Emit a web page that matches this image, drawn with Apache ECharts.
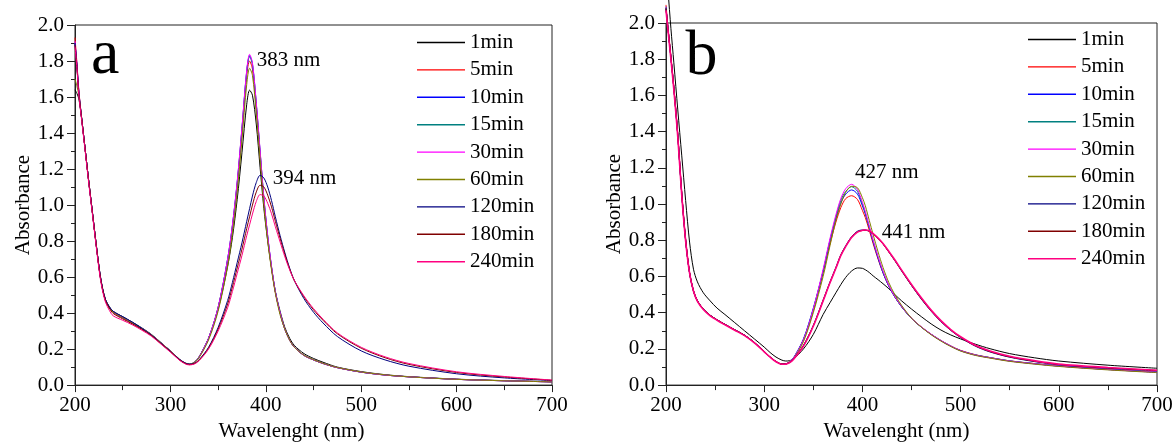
<!DOCTYPE html>
<html>
<head>
<meta charset="utf-8">
<script src="https://cdn.jsdelivr.net/npm/echarts@6/dist/echarts.min.js"></script>
<style>
html,body{margin:0;padding:0;background:#fff;}
#c{width:1176px;height:447px;}
</style>
</head>
<body>
<div id="c"></div>
<script>
// ---------- DATA ----------
const SERIES_NAMES = ['1min','5min','10min','15min','30min','60min','120min','180min','240min'];
const SERIES_COLORS = ['#000000','#ff0000','#0000ff','#008080','#ff00ff','#808000','#000080','#800000','#ff0080'];
const X_TICKS = [200,300,400,500,600,700];
const Y_TICKS = [0.0,0.2,0.4,0.6,0.8,1.0,1.2,1.4,1.6,1.8,2.0];
const X_NAME = 'Wavelenght (nm)';
const Y_NAME = 'Absorbance';
const PANEL_A_PEAKS = ['383 nm','394 nm'];
const PANEL_B_PEAKS = ['427 nm','441 nm'];

// Panel a wavelengths (nm)
const WL_A = [200,202,204,207,210,214,218,222,226,229,232,236,240,250,260,270,280,290,300,310,316,320,325,
  330,340,350,360,365,370,375,380,383,386,390,394,398,402,406,410,415,420,425,430,
  440,450,460,475,500,525,550,600,650,700];

const A_1min = [1.64,1.62,1.59,1.48,1.34,1.15,0.97,0.79,0.625,0.535,0.475,0.435,0.41,0.38,0.35,0.318,0.282,0.237,0.19,0.142,0.122,0.117,0.127,
  0.157,0.26,0.42,0.66,0.82,1.03,1.29,1.56,1.638,1.61,1.45,1.21,0.98,0.80,0.65,0.52,0.41,0.32,0.26,0.22,
  0.175,0.148,0.127,0.10,0.075,0.058,0.047,0.033,0.025,0.019];
const A_5min = [1.93,1.79,1.64,1.48,1.34,1.15,0.97,0.79,0.62,0.53,0.468,0.428,0.403,0.373,0.343,0.313,0.279,0.234,0.189,0.139,0.119,0.114,0.124,
  0.154,0.26,0.43,0.69,0.87,1.11,1.40,1.72,1.80,1.755,1.54,1.28,1.02,0.815,0.65,0.515,0.40,0.31,0.25,0.21,
  0.165,0.14,0.12,0.097,0.072,0.056,0.046,0.032,0.024,0.018];
const A_10min = [1.90,1.78,1.63,1.48,1.34,1.15,0.97,0.79,0.62,0.53,0.47,0.43,0.406,0.376,0.346,0.316,0.28,0.235,0.19,0.14,0.12,0.115,0.125,
  0.155,0.26,0.43,0.70,0.885,1.125,1.425,1.745,1.83,1.785,1.565,1.30,1.037,0.827,0.657,0.52,0.40,0.31,0.25,0.21,
  0.165,0.14,0.12,0.097,0.072,0.056,0.046,0.032,0.024,0.018];
const A_15min = [1.90,1.77,1.63,1.48,1.34,1.15,0.97,0.79,0.62,0.53,0.47,0.43,0.406,0.376,0.346,0.316,0.28,0.235,0.19,0.14,0.12,0.115,0.125,
  0.155,0.26,0.43,0.70,0.885,1.12,1.42,1.74,1.825,1.78,1.56,1.295,1.035,0.825,0.655,0.52,0.40,0.31,0.25,0.21,
  0.165,0.14,0.12,0.097,0.072,0.056,0.046,0.032,0.024,0.018];
const A_30min = [1.91,1.78,1.63,1.48,1.34,1.15,0.97,0.79,0.62,0.53,0.47,0.43,0.405,0.375,0.345,0.315,0.28,0.235,0.19,0.14,0.12,0.115,0.125,
  0.155,0.26,0.43,0.70,0.89,1.13,1.43,1.75,1.837,1.79,1.57,1.305,1.04,0.83,0.66,0.52,0.40,0.31,0.25,0.21,
  0.165,0.14,0.12,0.097,0.072,0.056,0.046,0.032,0.024,0.018];
const A_60min = [1.70,1.66,1.61,1.48,1.34,1.15,0.97,0.79,0.62,0.53,0.47,0.43,0.405,0.375,0.345,0.315,0.28,0.235,0.19,0.14,0.12,0.116,0.125,
  0.152,0.25,0.41,0.66,0.84,1.07,1.36,1.67,1.76,1.72,1.51,1.255,1.00,0.80,0.64,0.51,0.39,0.31,0.25,0.21,
  0.166,0.141,0.121,0.098,0.073,0.057,0.046,0.032,0.024,0.018];
const A_120min = [1.90,1.77,1.62,1.48,1.34,1.15,0.97,0.79,0.625,0.535,0.475,0.435,0.41,0.38,0.35,0.315,0.278,0.232,0.187,0.14,0.121,0.116,0.12,
  0.14,0.21,0.32,0.47,0.57,0.68,0.79,0.91,0.98,1.05,1.125,1.165,1.15,1.10,1.025,0.935,0.83,0.735,0.65,0.58,
  0.48,0.405,0.345,0.27,0.19,0.14,0.105,0.063,0.04,0.025];
const A_180min = [1.89,1.77,1.62,1.48,1.34,1.15,0.97,0.79,0.62,0.53,0.468,0.428,0.398,0.368,0.34,0.31,0.275,0.23,0.185,0.138,0.119,0.114,0.119,
  0.138,0.205,0.31,0.45,0.545,0.65,0.755,0.87,0.935,1.00,1.072,1.11,1.10,1.055,0.99,0.91,0.815,0.725,0.645,0.58,
  0.49,0.418,0.36,0.285,0.205,0.152,0.115,0.07,0.045,0.027];
const A_240min = [1.88,1.76,1.61,1.47,1.33,1.14,0.96,0.78,0.61,0.52,0.46,0.415,0.385,0.36,0.335,0.305,0.272,0.228,0.183,0.136,0.117,0.112,0.117,
  0.135,0.20,0.30,0.43,0.52,0.62,0.72,0.83,0.89,0.95,1.02,1.058,1.05,1.01,0.952,0.88,0.795,0.712,0.64,0.58,
  0.495,0.425,0.366,0.29,0.21,0.157,0.12,0.074,0.048,0.028];

// Panel b wavelengths (nm)
const WL_B = [200,202,205,208,212,216,220,224,228,232,238,245,252,260,270,280,290,300,306,312,318,322,326,330,
  340,350,360,367,373,378,383,389,395,400,403,407,411,416,421,427,433,440,450,460,470,480,490,500,515,530,550,575,600,650,700];

const B_1min = [2.30,2.18,1.97,1.78,1.52,1.27,1.02,0.79,0.64,0.57,0.51,0.465,0.425,0.39,0.345,0.30,0.255,0.21,0.18,0.155,0.138,0.133,0.135,0.145,
  0.20,0.28,0.39,0.455,0.51,0.555,0.595,0.63,0.647,0.645,0.637,0.622,0.603,0.582,0.56,0.532,0.50,0.465,0.42,0.378,0.338,0.304,0.277,0.255,0.226,0.201,0.174,0.151,0.133,0.11,0.093];
const B_5min = [2.10,1.98,1.82,1.65,1.39,1.07,0.81,0.625,0.522,0.467,0.421,0.386,0.361,0.336,0.306,0.276,0.236,0.186,0.156,0.131,0.117,0.118,0.13,0.15,
  0.25,0.41,0.62,0.78,0.90,0.98,1.03,1.046,1.025,0.965,0.925,0.855,0.78,0.695,0.62,0.545,0.487,0.432,0.368,0.321,0.281,0.246,0.216,0.192,0.168,0.152,0.134,0.119,0.106,0.087,0.072];
const B_10min = [2.09,1.97,1.81,1.64,1.38,1.06,0.80,0.62,0.52,0.465,0.42,0.385,0.36,0.335,0.305,0.275,0.235,0.185,0.155,0.13,0.116,0.117,0.13,0.152,
  0.255,0.425,0.63,0.80,0.92,1.005,1.055,1.078,1.055,0.99,0.945,0.87,0.79,0.70,0.62,0.545,0.487,0.432,0.368,0.32,0.28,0.245,0.215,0.19,0.166,0.151,0.133,0.118,0.105,0.086,0.071];
const B_15min = [2.08,1.97,1.81,1.64,1.38,1.06,0.80,0.62,0.52,0.466,0.421,0.386,0.361,0.336,0.306,0.276,0.236,0.186,0.155,0.13,0.116,0.117,0.13,0.151,
  0.252,0.42,0.63,0.80,0.93,1.02,1.07,1.096,1.07,1.00,0.95,0.87,0.795,0.705,0.625,0.548,0.488,0.433,0.369,0.321,0.281,0.246,0.216,0.19,0.167,0.152,0.134,0.119,0.106,0.087,0.072];
const B_30min = [2.08,1.97,1.81,1.64,1.38,1.06,0.80,0.62,0.52,0.465,0.42,0.385,0.36,0.335,0.305,0.275,0.235,0.185,0.155,0.13,0.116,0.117,0.13,0.15,
  0.25,0.42,0.64,0.81,0.94,1.03,1.085,1.109,1.08,1.01,0.96,0.88,0.80,0.71,0.63,0.55,0.49,0.435,0.37,0.322,0.281,0.246,0.216,0.19,0.166,0.151,0.133,0.118,0.105,0.086,0.071];
const B_60min = [2.08,1.97,1.81,1.64,1.38,1.06,0.80,0.62,0.52,0.465,0.42,0.385,0.36,0.335,0.305,0.275,0.235,0.185,0.155,0.13,0.116,0.117,0.128,0.146,
  0.24,0.40,0.60,0.77,0.91,1.00,1.065,1.098,1.09,1.035,0.99,0.91,0.83,0.735,0.65,0.565,0.50,0.44,0.37,0.32,0.278,0.243,0.213,0.188,0.164,0.149,0.131,0.116,0.103,0.084,0.069];
const B_120min = [2.08,1.97,1.81,1.64,1.38,1.06,0.80,0.62,0.52,0.465,0.42,0.385,0.36,0.335,0.305,0.275,0.235,0.185,0.155,0.13,0.116,0.117,0.125,0.145,
  0.22,0.33,0.47,0.57,0.65,0.72,0.77,0.82,0.85,0.857,0.857,0.85,0.835,0.81,0.78,0.735,0.688,0.63,0.55,0.475,0.408,0.35,0.302,0.262,0.215,0.183,0.154,0.13,0.112,0.093,0.079];
const B_180min = [2.08,1.97,1.81,1.64,1.38,1.06,0.80,0.62,0.52,0.465,0.42,0.385,0.36,0.335,0.305,0.275,0.235,0.185,0.155,0.13,0.116,0.117,0.125,0.144,
  0.218,0.328,0.467,0.567,0.647,0.717,0.767,0.817,0.847,0.854,0.855,0.849,0.834,0.809,0.779,0.734,0.688,0.631,0.551,0.477,0.41,0.352,0.304,0.264,0.217,0.185,0.156,0.132,0.114,0.095,0.081];
const B_240min = [2.07,1.96,1.80,1.63,1.37,1.05,0.795,0.618,0.518,0.463,0.418,0.383,0.358,0.333,0.303,0.273,0.233,0.184,0.154,0.129,0.115,0.116,0.124,0.143,
  0.215,0.325,0.465,0.565,0.645,0.715,0.765,0.815,0.845,0.855,0.857,0.852,0.837,0.812,0.782,0.738,0.692,0.635,0.556,0.482,0.414,0.356,0.307,0.267,0.22,0.188,0.159,0.135,0.116,0.097,0.082];

const A_VALUES = [A_1min,A_5min,A_10min,A_15min,A_30min,A_60min,A_120min,A_180min,A_240min];
const B_VALUES = [B_1min,B_5min,B_10min,B_15min,B_30min,B_60min,B_120min,B_180min,B_240min];

// ---------- CHART ----------
const FONT = 'Liberation Serif';
const AX = '#222';
const chart = echarts.init(document.getElementById('c'), null, {renderer: 'canvas'});

function pairs(wl, vals){ return wl.map((w,i)=>[w, vals[i]]); }

function xAxis(gi, padRight){
  return {
    type:'value', gridIndex:gi, min:X_TICKS[0], max:X_TICKS[X_TICKS.length-1], interval:X_TICKS[1]-X_TICKS[0],
    name:X_NAME, nameLocation:'middle', nameGap:31,
    nameTextStyle:{fontFamily:FONT, fontSize:21, color:'#000', padding:[0,padRight,0,0]},
    axisLine:{show:true, onZero:false, lineStyle:{color:AX, width:1}},
    axisTick:{show:true, inside:false, length:7, lineStyle:{color:AX, width:1}},
    minorTick:{show:true, splitNumber:2, length:5, lineStyle:{color:AX, width:1}},
    axisLabel:{fontFamily:FONT, fontSize:21, color:'#000', margin:10},
    splitLine:{show:false}, minorSplitLine:{show:false}
  };
}
function yAxis(gi){
  return {
    type:'value', gridIndex:gi, min:Y_TICKS[0], max:Y_TICKS[Y_TICKS.length-1], interval:Y_TICKS[1]-Y_TICKS[0],
    name:Y_NAME, nameLocation:'middle', nameGap:40, nameRotate:90,
    nameTextStyle:{fontFamily:FONT, fontSize:21, color:'#000'},
    axisLine:{show:true, onZero:false, lineStyle:{color:AX, width:1}},
    axisTick:{show:true, inside:false, length:8, lineStyle:{color:AX, width:1}},
    minorTick:{show:true, splitNumber:2, length:4, lineStyle:{color:AX, width:1}},
    axisLabel:{fontFamily:FONT, fontSize:21, color:'#000', margin:11, formatter:v=>v.toFixed(1)},
    splitLine:{show:false}, minorSplitLine:{show:false}
  };
}

const series = [];
SERIES_NAMES.forEach((n,i)=>{
  series.push({name:n, type:'line', xAxisIndex:0, yAxisIndex:0, data:pairs(WL_A, A_VALUES[i]),
    symbol:'none', smooth:0.3, clip:true,
    lineStyle:{color:SERIES_COLORS[i], width:1}, itemStyle:{color:SERIES_COLORS[i]},
    emphasis:{disabled:true}, z: 2+i});
});
SERIES_NAMES.forEach((n,i)=>{
  series.push({name:n, type:'line', xAxisIndex:1, yAxisIndex:1, data:pairs(WL_B, B_VALUES[i]),
    symbol:'none', smooth:0.3, clip:false,
    lineStyle:{color:SERIES_COLORS[i], width: i===8 ? 1.6 : 1}, itemStyle:{color:SERIES_COLORS[i]},
    emphasis:{disabled:true}, z: 2+i});
});

const legendCommon = {orient:'vertical', icon:'rect', itemWidth:48, itemHeight:1.4, itemGap:6.4, padding:0, selectedMode:false,
  textStyle:{fontFamily:FONT, fontSize:21, color:'#000'}, data:SERIES_NAMES};

chart.setOption({
  animation:false,
  backgroundColor:'#fff',
  grid:[
    {left:75, right:624, top:25, bottom:54, show:true, borderColor:AX, borderWidth:1, containLabel:false},
    {left:666, right:19, top:23, bottom:53, show:true, borderColor:AX, borderWidth:1, containLabel:false}
  ],
  xAxis:[xAxis(0,44), xAxis(1,30)],
  yAxis:[yAxis(0), yAxis(1)],
  legend:[
    Object.assign({left:417, top:32}, legendCommon),
    Object.assign({left:1028, top:29}, legendCommon)
  ],
  series:series
});

// annotations anchored in data coordinates
function placeText(gi, pt, text, size){
  const p = chart.convertToPixel({gridIndex:gi}, pt);
  return {type:'text', x:p[0], y:p[1], z:50,
    style:{text:text, font: size+'px "Liberation Serif"', fill:'#000', align:'left', verticalAlign:'middle'}};
}
chart.setOption({
  graphic:[
    placeText(0, [390.5, 1.804], PANEL_A_PEAKS[0], 21),
    placeText(0, [407.2, 1.147], PANEL_A_PEAKS[1], 21),
    placeText(1, [392.5, 1.175], PANEL_B_PEAKS[0], 21),
    placeText(1, [419.7, 0.841], PANEL_B_PEAKS[1], 21),
    placeText(0, [216.8, 1.826], 'a', 64),
    placeText(1, [219.9, 1.809], 'b', 64)
  ]
});
</script>
</body>
</html>
